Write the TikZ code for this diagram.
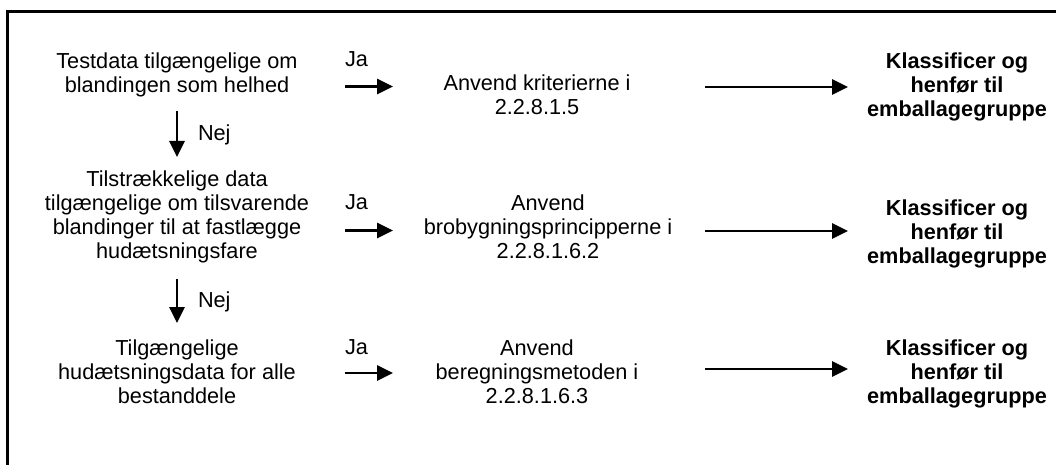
\documentclass[tikz,border=0pt]{standalone}
\usepackage{fontspec}
\setmainfont{Liberation Sans}
\usetikzlibrary{arrows.meta}
\begin{document}
\begin{tikzpicture}[x=1pt,y=-1pt,
  txt/.style={inner sep=0pt,outer sep=0pt,align=center,anchor=north,font=\fontsize{21.7}{24}\selectfont},
  res/.style={txt,font=\fontsize{21.7}{24}\selectfont\bfseries},
  lbl/.style={inner sep=0pt,outer sep=0pt,anchor=north west,font=\fontsize{21.7}{24}\selectfont},
  arr/.style={line width=2.8pt,-{Triangle[length=16pt,width=15pt]}}]
\useasboundingbox (0,0) rectangle (1056,465);
\clip (0,0) rectangle (1056,465);
\draw[line width=3pt] (7.5,12) rectangle (1100,520);
% left column
\node[txt] (l1) at (177,53) {Testdata tilgængelige om\\blandingen som helhed};
\node[txt] (l2) at (177,171) {Tilstrækkelige data\\tilgængelige om tilsvarende\\blandinger til at fastlægge\\hudætsningsfare};
\node[txt] (l3) at (177,340) {Tilgængelige\\hudætsningsdata for alle\\bestanddele};
% middle column
\node[txt] (m1) at (537,75) {Anvend kriterierne i\\2.2.8.1.5};
\node[txt] (m2) at (548,195) {Anvend\\brobygningsprincipperne i\\2.2.8.1.6.2};
\node[txt] (m3) at (537,340) {Anvend\\beregningsmetoden i\\2.2.8.1.6.3};
% right column
\node[res] (k1) at (957,53) {Klassificer og\\henfør til\\emballagegruppe};
\node[res] (k2) at (957,200) {Klassificer og\\henfør til\\emballagegruppe};
\node[res] (k3) at (957,340) {Klassificer og\\henfør til\\emballagegruppe};
% labels
\node[lbl] (ja1) at (345,52) {Ja};
\node[lbl] (ja2) at (345,195) {Ja};
\node[lbl] (ja3) at (345,340) {Ja};
\node[lbl] (nej1) at (198,125) {Nej};
\node[lbl] (nej2) at (198,292) {Nej};
% arrow end points
\coordinate (a1s) at (345,86.5); \coordinate (a1e) at (393,86.5);
\coordinate (b1s) at (705,87);   \coordinate (b1e) at (848,87);
\coordinate (a2s) at (345,230.5);\coordinate (a2e) at (393,230.5);
\coordinate (b2s) at (705,231);  \coordinate (b2e) at (848,231);
\coordinate (a3s) at (345,373);  \coordinate (a3e) at (393,373);
\coordinate (b3s) at (705,369);  \coordinate (b3e) at (848,369);
% connectors
\draw[arr,shorten <=13.6pt,shorten >=14pt] (l1) -- (l2);
\draw[arr,shorten <=15.6pt,shorten >=17pt] (l2) -- (l3);
\draw[arr] (a1s) -- (a1e);
\draw[arr] (b1s) -- (b1e);
\draw[arr] (a2s) -- (a2e);
\draw[arr] (b2s) -- (b2e);
\draw[arr] (a3s) -- (a3e);
\draw[arr] (b3s) -- (b3e);
\end{tikzpicture}
\end{document}
